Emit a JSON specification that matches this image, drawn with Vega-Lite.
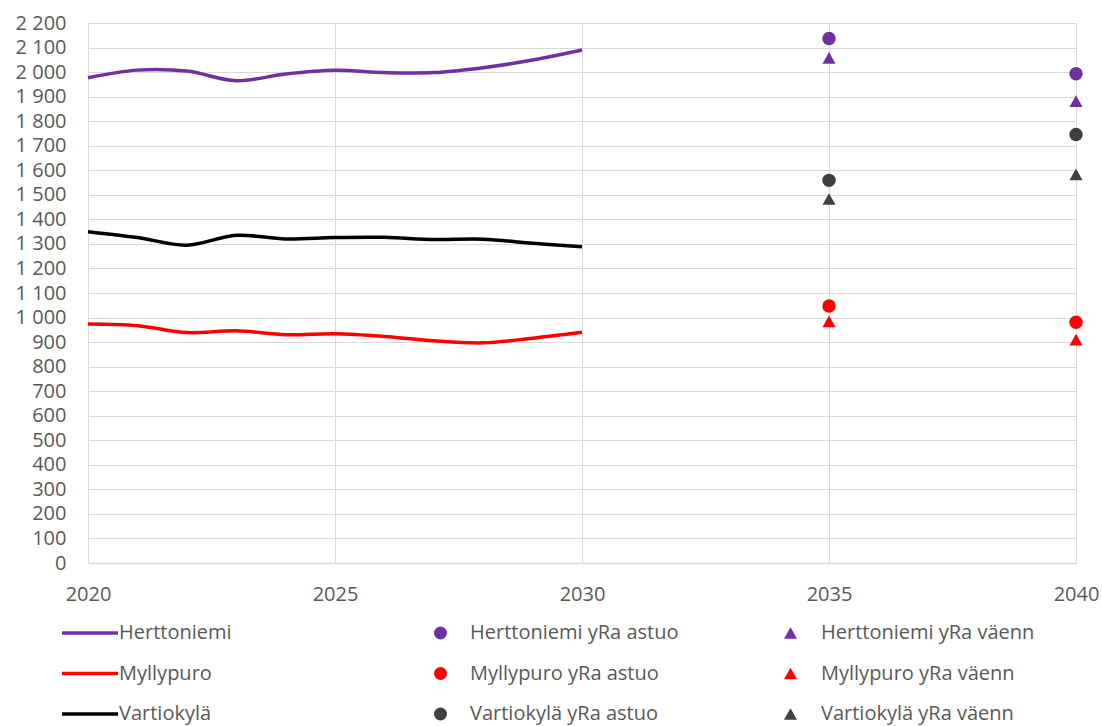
{
  "$schema": "https://vega.github.io/schema/vega-lite/v6.json",
  "autosize": "none",
  "width": 988,
  "height": 540,
  "padding": {"left": 88, "top": 23, "right": 26, "bottom": 163},
  "config": {
    "view": {"stroke": null},
    "font": "Open Sans",
    "axis": {"labelFont": "Open Sans", "labelFontSize": 20, "labelColor": "#595959", "gridColor": "#d9d9d9", "gridWidth": 1, "ticks": false, "title": null},
    "legend": {"labelFont": "Open Sans", "labelFontSize": 20, "labelColor": "#595959", "padding": 0, "title": null, "rowPadding": 20.5, "symbolOpacity": 1, "labelLimit": 0}
  },
  "datasets": {
    "lines": [
      {"year": 2020, "value": 1977, "series": "Herttoniemi"},
      {"year": 2021, "value": 2008, "series": "Herttoniemi"},
      {"year": 2022, "value": 2004, "series": "Herttoniemi"},
      {"year": 2023, "value": 1965, "series": "Herttoniemi"},
      {"year": 2024, "value": 1992, "series": "Herttoniemi"},
      {"year": 2025, "value": 2007, "series": "Herttoniemi"},
      {"year": 2026, "value": 1998, "series": "Herttoniemi"},
      {"year": 2027, "value": 1998, "series": "Herttoniemi"},
      {"year": 2028, "value": 2018, "series": "Herttoniemi"},
      {"year": 2029, "value": 2049, "series": "Herttoniemi"},
      {"year": 2030, "value": 2090, "series": "Herttoniemi"},
      {"year": 2020, "value": 974, "series": "Myllypuro"},
      {"year": 2021, "value": 967, "series": "Myllypuro"},
      {"year": 2022, "value": 939, "series": "Myllypuro"},
      {"year": 2023, "value": 946, "series": "Myllypuro"},
      {"year": 2024, "value": 930, "series": "Myllypuro"},
      {"year": 2025, "value": 934, "series": "Myllypuro"},
      {"year": 2026, "value": 923, "series": "Myllypuro"},
      {"year": 2027, "value": 905, "series": "Myllypuro"},
      {"year": 2028, "value": 897, "series": "Myllypuro"},
      {"year": 2029, "value": 916, "series": "Myllypuro"},
      {"year": 2030, "value": 940, "series": "Myllypuro"},
      {"year": 2020, "value": 1350, "series": "Vartiokylä"},
      {"year": 2021, "value": 1326, "series": "Vartiokylä"},
      {"year": 2022, "value": 1295, "series": "Vartiokylä"},
      {"year": 2023, "value": 1335, "series": "Vartiokylä"},
      {"year": 2024, "value": 1320, "series": "Vartiokylä"},
      {"year": 2025, "value": 1326, "series": "Vartiokylä"},
      {"year": 2026, "value": 1327, "series": "Vartiokylä"},
      {"year": 2027, "value": 1318, "series": "Vartiokylä"},
      {"year": 2028, "value": 1319, "series": "Vartiokylä"},
      {"year": 2029, "value": 1303, "series": "Vartiokylä"},
      {"year": 2030, "value": 1288, "series": "Vartiokylä"}
    ],
    "astuo": [
      {"year": 2035, "value": 2137, "series": "Herttoniemi yRa astuo"},
      {"year": 2040, "value": 1993, "series": "Herttoniemi yRa astuo"},
      {"year": 2035, "value": 1047, "series": "Myllypuro yRa astuo"},
      {"year": 2040, "value": 981, "series": "Myllypuro yRa astuo"},
      {"year": 2035, "value": 1559, "series": "Vartiokylä yRa astuo"},
      {"year": 2040, "value": 1746, "series": "Vartiokylä yRa astuo"}
    ],
    "vaenn": [
      {"year": 2035, "value": 2058, "series": "Herttoniemi yRa väenn"},
      {"year": 2040, "value": 1882, "series": "Herttoniemi yRa väenn"},
      {"year": 2035, "value": 984, "series": "Myllypuro yRa väenn"},
      {"year": 2040, "value": 910, "series": "Myllypuro yRa väenn"},
      {"year": 2035, "value": 1483, "series": "Vartiokylä yRa väenn"},
      {"year": 2040, "value": 1583, "series": "Vartiokylä yRa väenn"}
    ]
  },
  "encoding": {
    "x": {"field": "year", "type": "quantitative",
      "scale": {"domain": [2020, 2040], "nice": false, "zero": false},
      "axis": {"values": [2020, 2025, 2030, 2035, 2040], "format": "d", "labelPadding": 21, "domainColor": "#d9d9d9", "domainWidth": 1.5, "labelFlush": false}},
    "y": {"field": "value", "type": "quantitative",
      "scale": {"domain": [0, 2200], "nice": false},
      "axis": {"values": [0,100,200,300,400,500,600,700,800,900,1000,1100,1200,1300,1400,1500,1600,1700,1800,1900,2000,2100,2200],
        "labelExpr": "replace(format(datum.value, ',d'), ',', ' ')", "domain": false, "labelPadding": 22}}
  },
  "layer": [
    {
      "data": {"name": "lines"},
      "mark": {"type": "line", "interpolate": "cardinal", "strokeWidth": 3.5},
      "encoding": {
        "stroke": {"field": "series", "type": "nominal",
          "scale": {"domain": ["Herttoniemi", "Myllypuro", "Vartiokylä"], "range": ["#7030A0", "#FF0000", "#000000"]},
          "legend": {"orient": "none", "legendX": -29, "legendY": 600, "direction": "vertical",
            "symbolType": "M-1,0H7", "symbolSize": 196, "symbolStrokeWidth": 3.5, "labelOffset": 40}}
      }
    },
    {
      "data": {"name": "astuo"},
      "mark": {"type": "point", "filled": true, "shape": "circle", "size": 180, "opacity": 1},
      "encoding": {
        "fill": {"field": "series", "type": "nominal",
          "scale": {"domain": ["Herttoniemi yRa astuo", "Myllypuro yRa astuo", "Vartiokylä yRa astuo"], "range": ["#7030A0", "#FF0000", "#404040"]},
          "legend": {"orient": "none", "legendX": 342.5, "legendY": 600, "direction": "vertical",
            "symbolType": "circle", "symbolSize": 169, "symbolStrokeWidth": 0, "labelOffset": 19.5}}
      }
    },
    {
      "data": {"name": "vaenn"},
      "mark": {"type": "point", "filled": true, "shape": "M0,-0.9L1,0.9L-1,0.9Z", "size": 169, "opacity": 1},
      "encoding": {
        "color": {"field": "series", "type": "nominal",
          "scale": {"domain": ["Herttoniemi yRa väenn", "Myllypuro yRa väenn", "Vartiokylä yRa väenn"], "range": ["#7030A0", "#FF0000", "#404040"]},
          "legend": {"orient": "none", "legendX": 692.5, "legendY": 600, "direction": "vertical",
            "symbolType": "M0,-0.9L1,0.9L-1,0.9Z", "symbolSize": 169, "symbolStrokeWidth": 0, "labelOffset": 20.5}}
      }
    }
  ]
}
